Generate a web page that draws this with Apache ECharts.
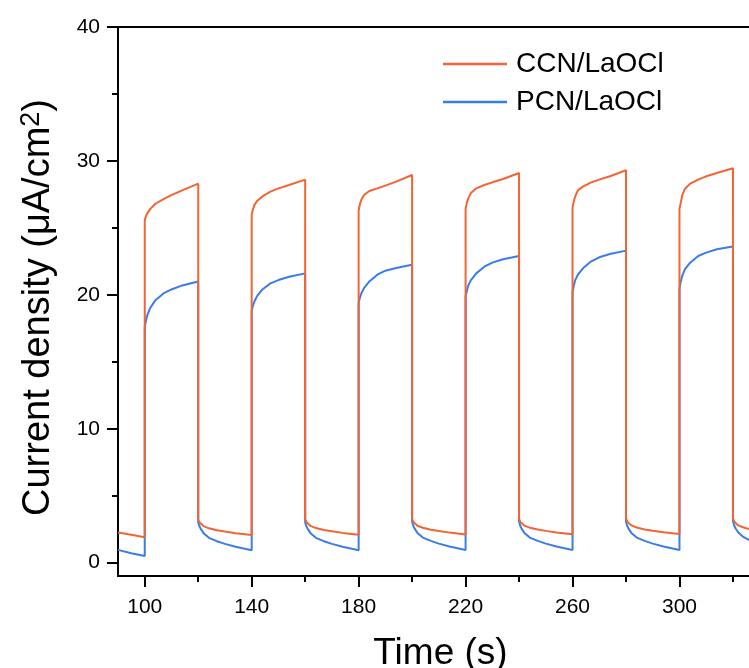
<!DOCTYPE html>
<html><head><meta charset="utf-8">
<script src="https://cdn.jsdelivr.net/npm/echarts@6/dist/echarts.min.js"></script>
<style>html,body{margin:0;padding:0;background:#fff}#c{width:749px;height:668px}</style>
</head><body><div id="c"></div>
<script>
const time = [
90, 95, 100,
100, 100.5, 101, 102, 104, 107, 110, 114, 120,
120, 120.5, 121, 122, 124, 127, 130, 134, 140,
140, 140.5, 141, 142, 144, 147, 150, 154, 160,
160, 160.5, 161, 162, 164, 167, 170, 174, 180,
180, 180.5, 181, 182, 184, 187, 190, 194, 200,
200, 200.5, 201, 202, 204, 207, 210, 214, 220,
220, 220.5, 221, 222, 224, 227, 230, 234, 240,
240, 240.5, 241, 242, 244, 247, 250, 254, 260,
260, 260.5, 261, 262, 264, 267, 270, 274, 280,
280, 280.5, 281, 282, 284, 287, 290, 294, 300,
300, 300.5, 301, 302, 304, 307, 310, 314, 320,
320, 320.5, 321, 322, 324, 327
];
const ccn = [
2.25, 2.08, 1.9,
25.6, 25.9, 26.1, 26.4, 26.8, 27.15, 27.45, 27.8, 28.3,
3.2, 3.0, 2.88, 2.72, 2.56, 2.42, 2.32, 2.2, 2.06,
26.0, 26.4, 26.7, 27.0, 27.35, 27.7, 27.95, 28.2, 28.6,
3.25, 3.02, 2.9, 2.74, 2.58, 2.44, 2.34, 2.22, 2.08,
26.3, 26.8, 27.1, 27.45, 27.75, 27.95, 28.15, 28.45, 28.95,
3.25, 3.03, 2.9, 2.75, 2.6, 2.46, 2.36, 2.24, 2.1,
26.4, 26.9, 27.2, 27.6, 27.95, 28.2, 28.4, 28.65, 29.1,
3.25, 3.03, 2.9, 2.76, 2.61, 2.47, 2.37, 2.25, 2.12,
26.5, 27.0, 27.35, 27.8, 28.1, 28.4, 28.6, 28.85, 29.3,
3.3, 3.05, 2.92, 2.78, 2.62, 2.48, 2.38, 2.26, 2.14,
26.4, 26.9, 27.4, 27.9, 28.3, 28.6, 28.85, 29.1, 29.45,
3.3, 3.05, 2.92, 2.78, 2.62, 2.45
];
const pcn = [
0.95, 0.7, 0.5,
17.6, 18.1, 18.5, 19.0, 19.6, 20.1, 20.4, 20.7, 21.0,
3.0, 2.7, 2.5, 2.2, 1.85, 1.6, 1.4, 1.18, 0.92,
18.8, 19.2, 19.5, 19.9, 20.4, 20.85, 21.1, 21.35, 21.6,
3.0, 2.7, 2.5, 2.2, 1.85, 1.6, 1.4, 1.18, 0.92,
19.4, 19.8, 20.1, 20.5, 21.0, 21.5, 21.8, 22.0, 22.25,
3.05, 2.72, 2.52, 2.22, 1.87, 1.62, 1.42, 1.2, 0.94,
19.9, 20.3, 20.7, 21.1, 21.6, 22.1, 22.4, 22.65, 22.9,
3.05, 2.72, 2.52, 2.22, 1.87, 1.62, 1.42, 1.2, 0.94,
20.2, 20.7, 21.1, 21.5, 22.0, 22.5, 22.8, 23.05, 23.3,
3.05, 2.72, 2.52, 2.22, 1.87, 1.62, 1.42, 1.2, 0.94,
20.5, 21.0, 21.4, 21.9, 22.4, 22.9, 23.15, 23.4, 23.6,
3.1, 2.75, 2.55, 2.25, 1.9, 1.6
];
const seriesNames = ['CCN/LaOCl', 'PCN/LaOCl'];
const xTickLabels = [100, 140, 180, 220, 260, 300];
const xMinorTicks = [120, 160, 200, 240, 280, 320];
const yTickLabels = [0, 10, 20, 30, 40];
const yMinorTicks = [5, 15, 25, 35];

const FONT = 'Liberation Sans, Arial, sans-serif';
const axisColor = '#000';
const xMin = 90, xMax = 326, yMin = -1, yMax = 40;

function pairs(vals) { return time.map((t, i) => [t, vals[i]]); }

const chart = echarts.init(document.getElementById('c'), null, {renderer: 'canvas'});
const lineSt = {color: axisColor, width: 2};
chart.setOption({
  animation: false,
  backgroundColor: '#fff',
  grid: {left: 118, top: 27, right: 0, bottom: 92, containLabel: false, outerBoundsMode: 'none'},
  legend: {
    data: seriesNames, orient: 'vertical', left: 443, top: 49, padding: 0,
    icon: 'rect', itemWidth: 64, itemHeight: 2.5, itemGap: 8,
    textStyle: {fontSize: 28, color: '#000', fontFamily: FONT, lineHeight: 30, padding: [0, 0, 0, 4]}
  },
  xAxis: [
    {type: 'value', position: 'bottom', min: xMin, max: xMax,
     axisLine: {show: true, onZero: false, lineStyle: lineSt},
     axisTick: {show: true, inside: false, length: 11, customValues: xTickLabels, lineStyle: lineSt},
     axisLabel: {customValues: xTickLabels, fontSize: 21, color: '#000', fontFamily: FONT, margin: 21},
     splitLine: {show: false},
     name: 'Time (s)', nameLocation: 'middle', nameGap: 59,
     nameTextStyle: {fontSize: 37, color: '#000', fontFamily: FONT, padding: [0, 0, 0, 14]}},
    {type: 'value', position: 'bottom', min: xMin, max: xMax,
     axisLine: {show: false, onZero: false},
     axisTick: {show: true, inside: false, length: 6, customValues: xMinorTicks, lineStyle: lineSt},
     axisLabel: {show: false}, splitLine: {show: false}},
    {type: 'value', position: 'top', min: xMin, max: xMax,
     axisLine: {show: true, onZero: false, lineStyle: lineSt},
     axisTick: {show: false}, axisLabel: {show: false}, splitLine: {show: false}}
  ],
  yAxis: [
    {type: 'value', position: 'left', min: yMin, max: yMax,
     axisLine: {show: true, onZero: false, lineStyle: lineSt},
     axisTick: {show: true, inside: false, length: 11, customValues: yTickLabels, lineStyle: lineSt},
     axisLabel: {customValues: yTickLabels, fontSize: 21, color: '#000', fontFamily: FONT, margin: 18},
     splitLine: {show: false},
     name: 'Current density (μA/cm{sup|2})', nameLocation: 'middle', nameGap: 59,
     nameTextStyle: {fontSize: 38, color: '#000', fontFamily: FONT, padding: [0, 12, 0, 0],
       rich: {sup: {fontSize: 27, color: '#000', fontFamily: FONT, verticalAlign: 'top', padding: [0, 0, 14, 0]}}}},
    {type: 'value', position: 'left', min: yMin, max: yMax,
     axisLine: {show: false, onZero: false},
     axisTick: {show: true, inside: false, length: 6, customValues: yMinorTicks, lineStyle: lineSt},
     axisLabel: {show: false}, splitLine: {show: false}}
  ],
  series: [
    {name: seriesNames[1], type: 'line', xAxisIndex: 0, yAxisIndex: 0, data: pairs(pcn),
     showSymbol: false, symbol: 'none', color: '#3A7CE8', lineStyle: {width: 2, color: '#3A7CE8'}, z: 2},
    {name: seriesNames[0], type: 'line', xAxisIndex: 0, yAxisIndex: 0, data: pairs(ccn),
     showSymbol: false, symbol: 'none', color: '#F26532', lineStyle: {width: 2, color: '#F26532'}, z: 3}
  ]
});
</script>
</body></html>
